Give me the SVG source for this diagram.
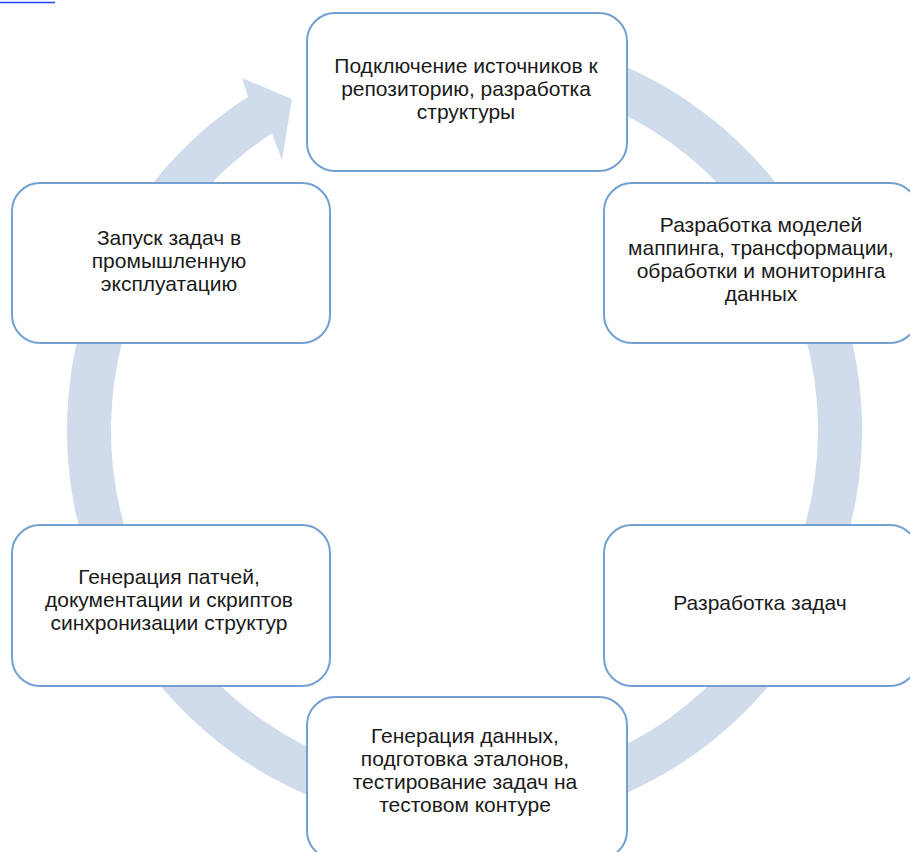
<svg xmlns="http://www.w3.org/2000/svg" width="910" height="852" viewBox="0 0 910 852">
<style>
.box{fill:#ffffff;stroke:#74a0d1;stroke-width:2}
.lbl{font-family:"Liberation Sans",Arial,sans-serif;font-size:21px;fill:#1a1a1a;text-anchor:middle}
.ring{fill:#d0dbeb;stroke:none}
</style>
<rect width="910" height="852" fill="#ffffff"/>
<line x1="0" y1="2.5" x2="55" y2="2.5" stroke="#2040ff" stroke-width="1.5"/>
<g id="connectors">
<path class="ring" d="M395.47,38.54 A397.5,397.5 0 1 1 248.01,96.63 L242,78 L292,99 L282,160 L271.97,133.53 A353.5,353.5 0 1 0 403.11,81.87 Z"/>
</g>
<g id="node1">
<rect class="box" x="307" y="13" width="320" height="158" rx="28"/>
<text class="lbl"><tspan x="466" y="73">Подключение источников к</tspan><tspan x="466" y="96">репозиторию, разработка</tspan><tspan x="466" y="119">структуры</tspan></text>
</g>
<g id="node2">
<rect class="box" x="604" y="183" width="314" height="160" rx="28"/>
<text class="lbl"><tspan x="761" y="232">Разработка моделей</tspan><tspan x="761" y="255">маппинга, трансформации,</tspan><tspan x="761" y="278">обработки и мониторинга</tspan><tspan x="761" y="301">данных</tspan></text>
</g>
<g id="node3">
<rect class="box" x="604" y="525" width="314" height="161" rx="28"/>
<text class="lbl"><tspan x="760" y="610">Разработка задач</tspan></text>
</g>
<g id="node4">
<rect class="box" x="307" y="697" width="320" height="162" rx="28"/>
<text class="lbl"><tspan x="465" y="743">Генерация данных,</tspan><tspan x="465" y="766">подготовка эталонов,</tspan><tspan x="465" y="789">тестирование задач на</tspan><tspan x="465" y="812">тестовом контуре</tspan></text>
</g>
<g id="node5">
<rect class="box" x="12" y="525" width="318" height="161" rx="28"/>
<text class="lbl"><tspan x="169" y="584">Генерация патчей,</tspan><tspan x="169" y="607">документации и скриптов</tspan><tspan x="169" y="630">синхронизации структур</tspan></text>
</g>
<g id="node6">
<rect class="box" x="12" y="183" width="318" height="160" rx="28"/>
<text class="lbl"><tspan x="169" y="245">Запуск задач в</tspan><tspan x="169" y="268">промышленную</tspan><tspan x="169" y="291">эксплуатацию</tspan></text>
</g>
</svg>
